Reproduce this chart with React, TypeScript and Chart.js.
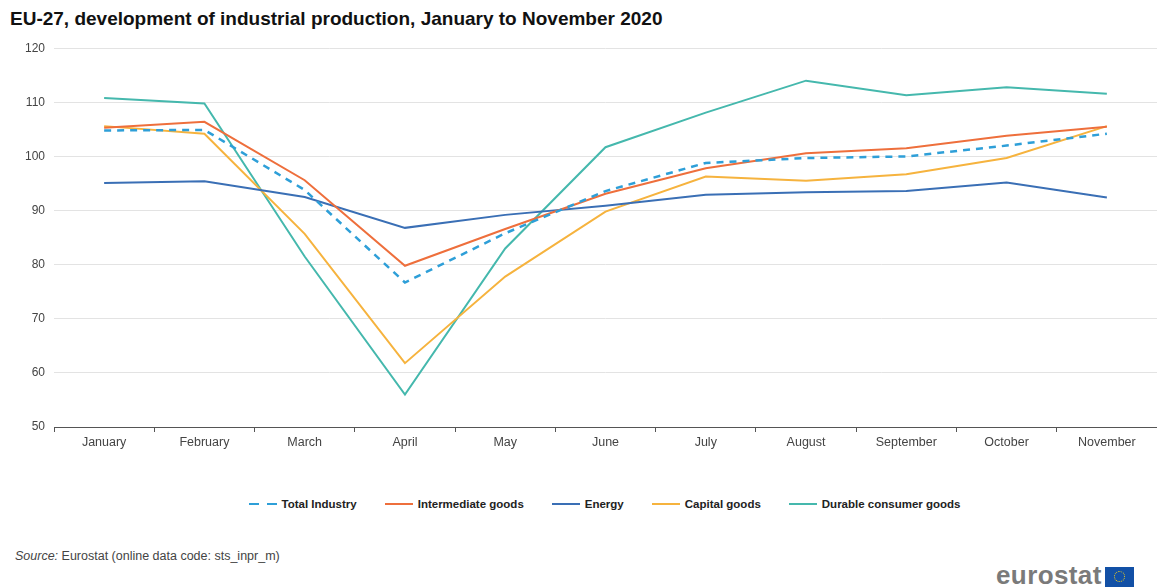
import React, { useEffect, useRef } from "react";
import { Chart, registerables } from "chart.js";

Chart.register(...registerables);

const months = ["January", "February", "March", "April", "May", "June", "July", "August", "September", "October", "November"];
const totalIndustry = [104.8, 104.9, 93.8, 76.7, 85.8, 93.6, 98.8, 99.7, 100.0, 102.0, 104.2];
const intermediateGoods = [105.3, 106.4, 95.6, 79.8, 86.6, 93.1, 97.8, 100.6, 101.5, 103.8, 105.5];
const energy = [95.1, 95.4, 92.5, 86.8, 89.2, 90.9, 92.9, 93.4, 93.6, 95.2, 92.4];
const capitalGoods = [105.6, 104.2, 85.7, 61.8, 77.8, 89.8, 96.3, 95.5, 96.7, 99.7, 105.6];
const durableConsumerGoods = [110.8, 109.8, 81.5, 56.0, 83.0, 101.7, 108.1, 114.0, 111.3, 112.8, 111.6];
const yTicks = [50, 60, 70, 80, 90, 100, 110, 120];

const seriesNames = ["Total Industry", "Intermediate goods", "Energy", "Capital goods", "Durable consumer goods"];
const seriesColors = ["#2e9fd8", "#ee6f3c", "#3a6fb5", "#f6b33e", "#45b8ad"];
const seriesData = [totalIndustry, intermediateGoods, energy, capitalGoods, durableConsumerGoods];

const FONT = "'Liberation Sans', Arial, sans-serif";

export default function App() {
  const ref = useRef<HTMLCanvasElement | null>(null);

  useEffect(() => {
    document.body.style.margin = "0";
    const ctx = ref.current;
    if (!ctx) return;
    const chart = new Chart(ctx, {
      type: "line",
      data: {
        labels: months,
        datasets: seriesNames.map((name, i) => ({
          label: name,
          data: seriesData[i],
          borderColor: seriesColors[i],
          backgroundColor: seriesColors[i],
          borderWidth: i === 0 ? 2.5 : 2,
          borderDash: i === 0 ? [7, 6] : [],
          pointRadius: 0,
          tension: 0,
          fill: false,
          order: i === 0 ? 0 : i,
        })),
      },
      options: {
        animation: false,
        responsive: false,
        maintainAspectRatio: false,
        layout: { padding: { top: 0, right: 0, bottom: 0, left: 0 } },
        plugins: {
          legend: { display: false },
          tooltip: { enabled: false },
          title: { display: false },
        },
        scales: {
          x: {
            type: "category",
            offset: true,
            grid: {
              display: true,
              offset: true,
              drawOnChartArea: false,
              drawTicks: true,
              tickLength: 5,
              color: "#555555",
            },
            border: { display: true, color: "#555555", width: 1 },
            ticks: {
              color: "#444444",
              font: { family: FONT, size: 12.5 },
              padding: 3,
              maxRotation: 0,
              autoSkip: false,
            },
            afterFit: (s: any) => {
              s.height = 33;
            },
          },
          y: {
            min: 50,
            max: 120,
            afterBuildTicks: (s: any) => {
              s.ticks = yTicks.map((v) => ({ value: v }));
            },
            grid: { color: "#e3e3e3", lineWidth: 1, drawTicks: false },
            border: { display: false },
            ticks: {
              color: "#444444",
              font: { family: FONT, size: 12 },
              padding: 9,
            },
            afterFit: (s: any) => {
              s.width = 54;
            },
          },
        },
      },
    });
    return () => chart.destroy();
  }, []);

  return (
    <div style={{ position: "fixed", left: 0, top: 0, width: 1157, height: 588, background: "#fff", fontFamily: FONT, overflow: "hidden" }}>
      <div style={{ position: "absolute", left: 10, top: 8, fontSize: 19, fontWeight: "bold", color: "#111", whiteSpace: "nowrap" }}>
        EU-27, development of industrial production, January to November 2020
      </div>
      <canvas ref={ref} width={1157} height={428} style={{ position: "absolute", left: 0, top: 32, width: 1157, height: 428 }} />
      <div style={{ position: "absolute", left: 0, top: 498, width: 1157, display: "flex", justifyContent: "center", alignItems: "center", paddingLeft: 52, boxSizing: "border-box" }}>
        {seriesNames.map((name, i) => (
          <div key={name} style={{ display: "flex", alignItems: "center", marginRight: i < seriesNames.length - 1 ? 28 : 0 }}>
            {i === 0 ? (
              <div style={{ width: 28, display: "flex", justifyContent: "space-between", marginRight: 5 }}>
                <div style={{ width: 10, height: 2.5, background: seriesColors[i] }} />
                <div style={{ width: 10, height: 2.5, background: seriesColors[i] }} />
              </div>
            ) : (
              <div style={{ width: 28, height: 2, background: seriesColors[i], marginRight: 5 }} />
            )}
            <span style={{ fontSize: 11.5, fontWeight: "bold", color: "#222", whiteSpace: "nowrap" }}>{name}</span>
          </div>
        ))}
      </div>
      <div style={{ position: "absolute", left: 15, top: 549, fontSize: 12.5, color: "#444", whiteSpace: "nowrap" }}>
        <i>Source:</i> Eurostat (online data code: sts_inpr_m)
      </div>
      <div style={{ position: "absolute", left: 996, top: 563, display: "flex", alignItems: "flex-end" }}>
        <span style={{ fontSize: 26, fontWeight: "bold", color: "#7a7a7a", letterSpacing: 0.4, lineHeight: "24px" }}>eurostat</span>
        <div style={{ width: 29, height: 20, background: "#1250a6", marginLeft: 3, position: "relative", marginBottom: 0 }}>
          <div style={{ position: "absolute", left: 9, top: 4, width: 11, height: 11, borderRadius: "50%", border: "1.5px dotted #f5d21a", boxSizing: "border-box" }} />
        </div>
      </div>
    </div>
  );
}
